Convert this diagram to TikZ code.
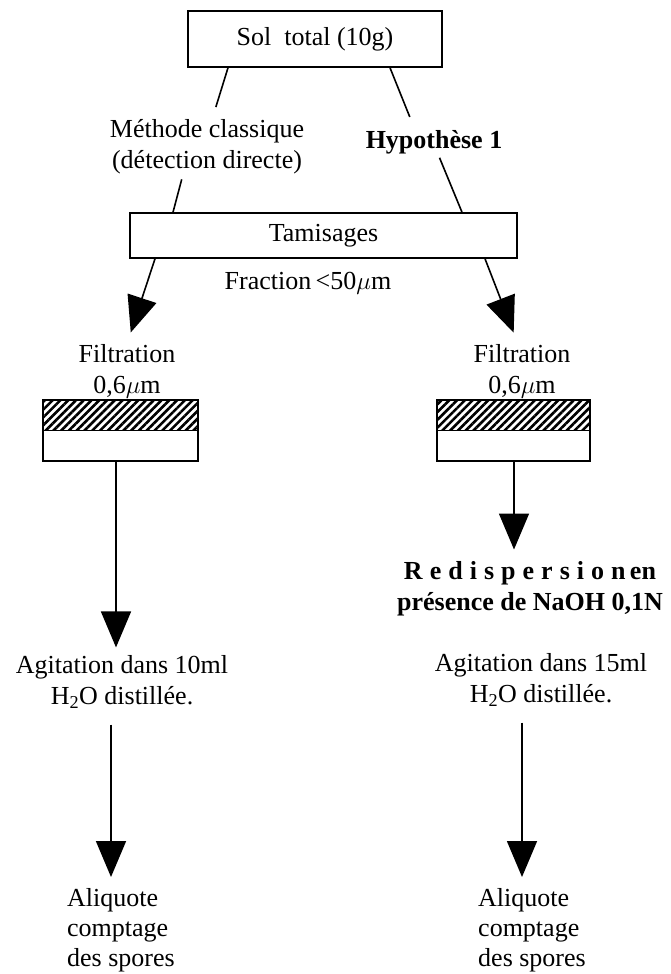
\documentclass[tikz,border=0pt]{standalone}
\usepackage{fontspec}
\setmainfont{Liberation Serif}
\usetikzlibrary{arrows.meta,patterns.meta}

\begin{document}
\begin{tikzpicture}[x=1pt,y=1pt,
	every node/.style={inner sep=0pt,font=\fontsize{26}{31}\selectfont},
	boite/.style={draw,line width=1.5pt},
	filtre/.style={draw,line width=1.5pt,minimum height=30.5pt},
	hachure/.style={pattern={Lines[angle=45,distance=5.5pt,line width=2.6pt]}},
	trait/.style={line width=1.6pt},
	fleche/.style={line width=1.6pt,-{Triangle[length=36pt,width=30pt]}}]
	\useasboundingbox (0,0) rectangle (671,-974);
	% boites du haut
	\node[boite,minimum width=254pt,minimum height=56pt] (sol) at (315,-39) {Sol\ \ total (10g)};
	\node[align=center] (meth) at (207,-147) {Méthode classique\\(détection directe)};
	\node (hyp) at (434,-142) {\textbf{Hypothèse 1}};
	\node[boite,minimum width=387pt,minimum height=45pt] (tam) at (323.5,-235.5) {Tamisages};
	\node (frac) at (308,-283) {Fraction\,<50$\mu$m};
	% filtrations
	\node[align=center] (filtL) at (127,-371) {Filtration\\0,6$\mu$m};
	\node[align=center] (filtR) at (522,-371) {Filtration\\0,6$\mu$m};
	\node[filtre,hachure,minimum width=155pt] (filtreL1) at (120.5,-415) {};
	\node[filtre,minimum width=155pt] (filtreL2) at (120.5,-445.5) {};
	\node[filtre,hachure,minimum width=153pt] (filtreR1) at (513.5,-415) {};
	\node[filtre,minimum width=153pt] (filtreR2) at (513.5,-445.5) {};
	% suite des etapes
	\node[align=center] (redis) at (530,-589) {\textbf{{\addfontfeature{LetterSpace=27}Redispersion}\,en}\\\textbf{présence de NaOH 0,1N}};
	\node[align=center] (agitL) at (122,-682) {Agitation dans 10ml\\H\textsubscript{2}O distillée.};
	\node[align=center] (agitR) at (541,-680) {Agitation dans 15ml\\H\textsubscript{2}O distillée.};
	\node[align=left,font=\fontsize{26}{30}\selectfont] (aliqL) at (121,-930) {Aliquote\\comptage\\des spores};
	\node[align=left,font=\fontsize{26}{30}\selectfont] (aliqR) at (532,-930) {Aliquote\\comptage\\des spores};
	% liaisons
	\draw[trait,shorten >=13pt] ([xshift=-87pt]sol.south) -- ([xshift=5pt]meth.north);
	\draw[trait,shorten >=14pt] ([xshift=75pt]sol.south) -- ([xshift=-19pt]hyp.north);
	\draw[trait,shorten <=5pt] ([xshift=-24pt]meth.south) -- ([xshift=-150.5pt]tam.north);
	\draw[trait,shorten <=4pt] ([xshift=4pt]hyp.south) -- ([xshift=138.5pt]tam.north);
	\draw[fleche,shorten >=12pt] ([xshift=-168.5pt]tam.south) -- (filtL.north);
	\draw[fleche,shorten >=12pt] ([xshift=161.5pt]tam.south) -- ([xshift=-4pt]filtR.north);
	\draw[fleche,shorten >=8pt] ([xshift=-4.5pt]filtreL2.south) -- ([xshift=-4.5pt]filtreL2.south |- agitL.north);
	\draw[fleche,shorten >=12pt] ([xshift=0.5pt]filtreR2.south) -- ([xshift=0.5pt]filtreR2.south |- redis.north);
	\draw[fleche,shorten <=16pt,shorten >=11pt] ([xshift=-11pt]agitL.south) -- ([xshift=-11pt]agitL.south |- aliqL.north);
	\draw[fleche,shorten <=16pt,shorten >=11pt] ([xshift=-19pt]agitR.south) -- ([xshift=-19pt]agitR.south |- aliqR.north);
\end{tikzpicture}
\end{document}
